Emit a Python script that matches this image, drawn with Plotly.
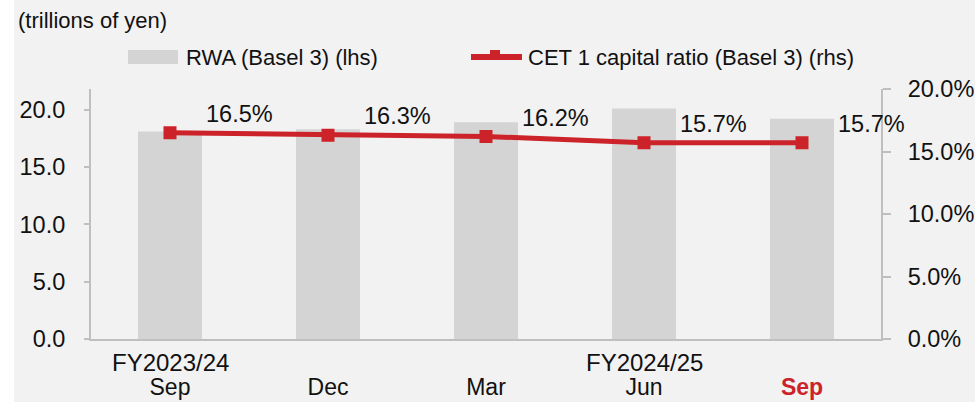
import plotly.graph_objects as go

months = ["Sep", "Dec", "Mar", "Jun", "<span style='color:#cc2229'><b>Sep</b></span>"]
fy_labels = ["FY2023/24", "", "", "FY2024/25", ""]
rwa = [18.1, 18.3, 18.9, 20.1, 19.2]
cet1 = [16.5, 16.3, 16.2, 15.7, 15.7]
cet1_labels = ["16.5%", "16.3%", "16.2%", "15.7%", "15.7%"]
left_ticks = [0, 5, 10, 15, 20]
left_ticktext = ["0.0", "5.0", "10.0", "15.0", "20.0"]
right_ticks = [0, 5, 10, 15, 20]
right_ticktext = ["0.0%", "5.0%", "10.0%", "15.0%", "20.0%"]

RED = "#cc2229"
GRAY_BAR = "#d4d4d4"
AXIS = "#bfbfbf"
TXT = "#111111"
FONT = "Liberation Sans, Arial, sans-serif"

x_idx = list(range(len(months)))

fig = go.Figure()
fig.add_trace(go.Bar(x=x_idx, y=rwa, marker=dict(color=GRAY_BAR, line=dict(width=0)),
                     name="RWA (Basel 3) (lhs)", yaxis="y", showlegend=False))
fig.add_trace(go.Scatter(x=x_idx, y=cet1, mode="lines+markers", yaxis="y2",
                         line=dict(color=RED, width=5),
                         marker=dict(symbol="square", size=13, color=RED),
                         name="CET 1 capital ratio (Basel 3) (rhs)", showlegend=False))

for i, (v, t) in enumerate(zip(cet1, cet1_labels)):
    fig.add_annotation(x=i, y=v, xref="x", yref="y2", text=t, showarrow=False,
                       xanchor="left", yanchor="middle", xshift=34, yshift=19,
                       font=dict(size=23.5, color=TXT, family=FONT))

W, H = 975, 402
L, R, T, B = 91, 94, 89, 63
pw, ph = W - L - R, H - T - B

def px(x):
    return (x - L) / pw

def py(y):
    return (H - B - y) / ph

for i, t in enumerate(fy_labels):
    if t:
        fig.add_annotation(x=i, y=py(362), xref="x", yref="paper", text=t, showarrow=False,
                           xanchor="center", yanchor="middle",
                           font=dict(size=24, color=TXT, family=FONT))

shapes = [
    dict(type="rect", xref="paper", yref="paper", x0=px(0), x1=px(14), y0=py(H), y1=py(0),
         fillcolor="white", line=dict(width=0), layer="below"),
    dict(type="rect", xref="paper", yref="paper", x0=px(128), x1=px(178), y0=py(64), y1=py(50),
         fillcolor=GRAY_BAR, line=dict(width=0)),
    dict(type="line", xref="paper", yref="paper", x0=px(471), x1=px(522), y0=py(57), y1=py(57),
         line=dict(color=RED, width=6)),
    dict(type="rect", xref="paper", yref="paper", x0=px(490), x1=px(500), y0=py(57), y1=py(50),
         fillcolor=RED, line=dict(width=0)),
]

fig.add_annotation(xref="paper", yref="paper", x=px(184), y=py(57), text="RWA (Basel 3) (lhs)",
                   showarrow=False, xanchor="left", yanchor="middle",
                   font=dict(size=22, color=TXT, family=FONT))
fig.add_annotation(xref="paper", yref="paper", x=px(526), y=py(57),
                   text="CET 1 capital ratio (Basel 3) (rhs)",
                   showarrow=False, xanchor="left", yanchor="middle",
                   font=dict(size=22, color=TXT, family=FONT))
fig.add_annotation(xref="paper", yref="paper", x=px(16), y=py(20), text="(trillions of yen)",
                   showarrow=False, xanchor="left", yanchor="middle",
                   font=dict(size=22, color=TXT, family=FONT))

fig.update_layout(
    width=W, height=H,
    margin=dict(l=L, r=R, t=T, b=B, pad=0, autoexpand=False),
    paper_bgcolor="#f2f2f2", plot_bgcolor="#f2f2f2",
    bargap=0.595,
    showlegend=False,
    shapes=shapes,
    font=dict(family=FONT, color=TXT),
    xaxis=dict(tickmode="array", tickvals=x_idx, ticktext=months,
               range=[-0.5, len(months) - 0.5], automargin=False,
               showline=True, linecolor=AXIS, linewidth=2, ticks="", showgrid=False,
               ticklabelstandoff=26,
               tickfont=dict(size=23, color=TXT, family=FONT), zeroline=False),
    yaxis=dict(range=[0, 21.8], tickmode="array", tickvals=left_ticks, ticktext=left_ticktext,
               automargin=False,
               showline=True, linecolor=AXIS, linewidth=2, ticks="outside", ticklen=5,
               tickcolor=AXIS, tickwidth=2, showgrid=False, zeroline=False,
               ticklabelstandoff=14,
               tickfont=dict(size=23.5, color=TXT, family=FONT)),
    yaxis2=dict(range=[0, 20], overlaying="y", side="right", tickmode="array",
                tickvals=right_ticks, ticktext=right_ticktext, automargin=False,
                showline=True, linecolor=AXIS, linewidth=2, ticks="outside", ticklen=8,
                tickcolor=AXIS, tickwidth=2, showgrid=False, zeroline=False,
                ticklabelstandoff=12,
                tickfont=dict(size=23.5, color=TXT, family=FONT)),
)

fig.write_html("out.html", config={"displayModeBar": False},
               post_script="document.body.style.margin='0';document.body.style.padding='0';")
